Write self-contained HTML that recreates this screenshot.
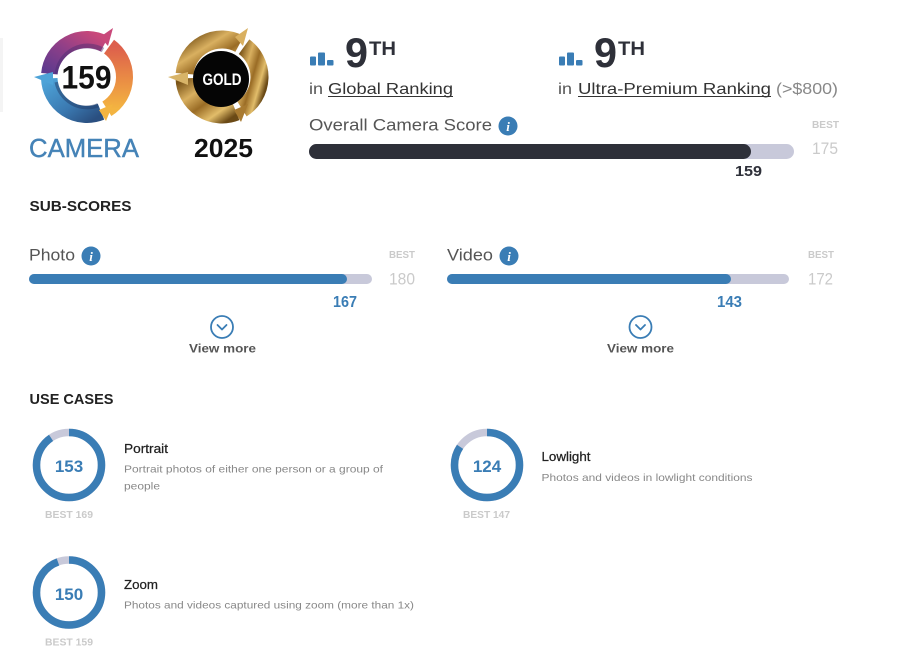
<!DOCTYPE html>
<html>
<head>
<meta charset="utf-8">
<style>
html,body{margin:0;padding:0;background:#fff;}
body{width:902px;height:668px;overflow:hidden;}
svg{display:block;}
svg text{font-family:"Liberation Sans",sans-serif;}
svg text.ic{font-family:"Liberation Serif",serif;}
</style>
</head>
<body>
<svg width="902" height="668" viewBox="0 0 902 668" xmlns="http://www.w3.org/2000/svg">
<defs>
  <linearGradient id="gPur" x1="0" y1="1" x2="1" y2="0">
    <stop offset="0" stop-color="#5e3a8e"/>
    <stop offset="0.5" stop-color="#8e3f88"/>
    <stop offset="1" stop-color="#c9487a"/>
  </linearGradient>
  <linearGradient id="gOra" x1="0" y1="0" x2="0" y2="1">
    <stop offset="0" stop-color="#dd5f4c"/>
    <stop offset="0.5" stop-color="#e98a45"/>
    <stop offset="1" stop-color="#f3b441"/>
  </linearGradient>
  <linearGradient id="gBlu" x1="0" y1="0" x2="1" y2="1">
    <stop offset="0" stop-color="#4ea3d8"/>
    <stop offset="0.6" stop-color="#3a78b0"/>
    <stop offset="1" stop-color="#2a4f80"/>
  </linearGradient>
  <linearGradient id="gGold" x1="0" y1="0" x2="1" y2="1">
    <stop offset="0" stop-color="#7a5418"/>
    <stop offset="0.3" stop-color="#d9b060"/>
    <stop offset="0.55" stop-color="#9a6c25"/>
    <stop offset="0.8" stop-color="#e2bd6a"/>
    <stop offset="1" stop-color="#6b4a16"/>
  </linearGradient>
</defs>

<!-- faint left edge -->
<rect x="0" y="38" width="3" height="74" fill="#f4f4f4"/>

<!-- CAMERA logo -->
<g>
  <path d="M49.64,73.73 A37.5,37.5 0 0 1 104.6,43.89" fill="none" stroke="url(#gPur)" stroke-width="17"/>
  <path d="M109.04,46.66 A37.5,37.5 0 0 1 106.87,108.8" fill="none" stroke="url(#gOra)" stroke-width="17"/>
  <path d="M101.05,111.77 A37.5,37.5 0 0 1 49.52,78.31" fill="none" stroke="url(#gBlu)" stroke-width="17"/>
  <polygon points="100,37 113,28 108,46" fill="#c9487a"/>
  <polygon points="99,110 106,121 113,104" fill="#f3b441"/>
  <polygon points="53,72 34,77 53,85" fill="#4ea3d8"/>
  <path d="M57,74 A31,31 0 0 1 103,50" fill="none" stroke="#4a2c72" stroke-width="5" opacity="0.45"/>
  <path d="M98,105 A31,31 0 0 1 57,82" fill="none" stroke="#1f3a66" stroke-width="5" opacity="0.5"/>
  <circle cx="86" cy="77" r="28.5" fill="#fff"/>
  <text x="61.5" y="88.5" font-size="32" font-weight="bold" fill="#111" textLength="50" lengthAdjust="spacingAndGlyphs">159</text>
</g>
<text x="29" y="157" font-size="26" fill="#4583b7" stroke="#4583b7" stroke-width="0.4" textLength="110" lengthAdjust="spacingAndGlyphs">CAMERA</text>

<!-- GOLD badge -->
<g>
  <path d="M184.64,73.73 A37.5,37.5 0 0 1 239.6,43.89" fill="none" stroke="url(#gGold)" stroke-width="18"/>
  <path d="M244.04,46.66 A37.5,37.5 0 0 1 241.87,108.8" fill="none" stroke="url(#gGold)" stroke-width="18"/>
  <path d="M236.05,111.77 A37.5,37.5 0 0 1 184.52,78.31" fill="none" stroke="url(#gGold)" stroke-width="18"/>
  <polygon points="235,37 248,28 243,46" fill="#d9b060"/>
  <polygon points="234,110 241,122 248,104" fill="#a87a30"/>
  <polygon points="188,72 168,77 188,85" fill="#d8b468"/>
  <circle cx="221" cy="79" r="28" fill="#050505"/>
  <text x="202.5" y="85" font-size="17" font-weight="bold" fill="#fff" textLength="39" lengthAdjust="spacingAndGlyphs">GOLD</text>
</g>
<text x="194" y="157" font-size="26" font-weight="bold" fill="#111" textLength="59" lengthAdjust="spacingAndGlyphs">2025</text>

<!-- Rankings -->
<g fill="#3a7db5">
  <rect x="310" y="56.5" width="6" height="9" rx="1"/>
  <rect x="318" y="52.5" width="7" height="13" rx="1"/>
  <rect x="327" y="60" width="6.5" height="5.5" rx="1"/>
  <rect x="559" y="56.5" width="6" height="9" rx="1"/>
  <rect x="567" y="52.5" width="7" height="13" rx="1"/>
  <rect x="576" y="60" width="6.5" height="5.5" rx="1"/>
</g>
<text x="345" y="67" font-size="42" font-weight="bold" fill="#2e3039" textLength="23" lengthAdjust="spacingAndGlyphs">9</text>
<text x="369" y="55" font-size="19" font-weight="bold" fill="#2e3039" textLength="27" lengthAdjust="spacingAndGlyphs">TH</text>
<text x="594" y="67" font-size="42" font-weight="bold" fill="#2e3039" textLength="23" lengthAdjust="spacingAndGlyphs">9</text>
<text x="618" y="55" font-size="19" font-weight="bold" fill="#2e3039" textLength="27" lengthAdjust="spacingAndGlyphs">TH</text>

<text x="309" y="94" font-size="16" fill="#555" textLength="14" lengthAdjust="spacingAndGlyphs">in</text>
<text x="328" y="94" font-size="16" fill="#333" textLength="125" lengthAdjust="spacingAndGlyphs">Global Ranking</text>
<line x1="328" y1="96.5" x2="453" y2="96.5" stroke="#333" stroke-width="1"/>

<text x="558" y="94" font-size="16" fill="#555" textLength="14" lengthAdjust="spacingAndGlyphs">in</text>
<text x="578" y="94" font-size="16" fill="#333" textLength="193" lengthAdjust="spacingAndGlyphs">Ultra-Premium Ranking</text>
<line x1="578" y1="96.5" x2="771" y2="96.5" stroke="#333" stroke-width="1"/>
<text x="776" y="94" font-size="16" fill="#888" textLength="62" lengthAdjust="spacingAndGlyphs">(&gt;$800)</text>

<!-- Overall score -->
<text x="309" y="130.5" font-size="17" fill="#555" textLength="183" lengthAdjust="spacingAndGlyphs">Overall Camera Score</text>
<circle cx="508" cy="126" r="9.5" fill="#3a7db5"/>
<text class="ic" x="508" y="131" font-size="13" font-weight="bold" font-style="italic" fill="#fff" text-anchor="middle">i</text>
<text x="812" y="128" font-size="10" font-weight="bold" fill="#cacaca" textLength="27" lengthAdjust="spacingAndGlyphs">BEST</text>
<text x="812" y="154" font-size="17" fill="#cacaca" textLength="26" lengthAdjust="spacingAndGlyphs">175</text>
<rect x="309" y="144" width="485" height="15" rx="7.5" fill="#c8c9da"/>
<rect x="309" y="144" width="442" height="15" rx="7.5" fill="#2e3039"/>
<text x="735" y="176" font-size="15" font-weight="bold" fill="#2e3039" textLength="27" lengthAdjust="spacingAndGlyphs">159</text>

<!-- SUB-SCORES -->
<text x="29.5" y="211" font-size="15" font-weight="bold" fill="#222" textLength="102" lengthAdjust="spacingAndGlyphs">SUB-SCORES</text>

<!-- Photo -->
<text x="29" y="260.5" font-size="17" fill="#555" textLength="46" lengthAdjust="spacingAndGlyphs">Photo</text>
<circle cx="91" cy="256" r="9.5" fill="#3a7db5"/>
<text class="ic" x="91" y="261" font-size="13" font-weight="bold" font-style="italic" fill="#fff" text-anchor="middle">i</text>
<text x="389" y="258" font-size="10" font-weight="bold" fill="#cacaca" textLength="26" lengthAdjust="spacingAndGlyphs">BEST</text>
<text x="389" y="284.5" font-size="17" fill="#cacaca" textLength="26" lengthAdjust="spacingAndGlyphs">180</text>
<rect x="29" y="274" width="343" height="10" rx="5" fill="#c8c9da"/>
<rect x="29" y="274" width="318" height="10" rx="5" fill="#3a7db5"/>
<text x="333" y="307" font-size="16" font-weight="bold" fill="#3a7db5" textLength="24" lengthAdjust="spacingAndGlyphs">167</text>
<circle cx="222" cy="327" r="11" fill="none" stroke="#3a7db5" stroke-width="1.8"/>
<path d="M217.5,325 L222,329.5 L226.5,325" fill="none" stroke="#3a7db5" stroke-width="1.8" stroke-linecap="round" stroke-linejoin="round"/>
<text x="189" y="352.5" font-size="12" font-weight="bold" fill="#555" textLength="67" lengthAdjust="spacingAndGlyphs">View more</text>

<!-- Video -->
<text x="447" y="260.5" font-size="17" fill="#555" textLength="46" lengthAdjust="spacingAndGlyphs">Video</text>
<circle cx="509" cy="256" r="9.5" fill="#3a7db5"/>
<text class="ic" x="509" y="261" font-size="13" font-weight="bold" font-style="italic" fill="#fff" text-anchor="middle">i</text>
<text x="808" y="258" font-size="10" font-weight="bold" fill="#cacaca" textLength="26" lengthAdjust="spacingAndGlyphs">BEST</text>
<text x="808" y="284.5" font-size="17" fill="#cacaca" textLength="25" lengthAdjust="spacingAndGlyphs">172</text>
<rect x="447" y="274" width="342" height="10" rx="5" fill="#c8c9da"/>
<rect x="447" y="274" width="284" height="10" rx="5" fill="#3a7db5"/>
<text x="717" y="307" font-size="16" font-weight="bold" fill="#3a7db5" textLength="25" lengthAdjust="spacingAndGlyphs">143</text>
<circle cx="640.5" cy="327" r="11" fill="none" stroke="#3a7db5" stroke-width="1.8"/>
<path d="M636,325 L640.5,329.5 L645,325" fill="none" stroke="#3a7db5" stroke-width="1.8" stroke-linecap="round" stroke-linejoin="round"/>
<text x="607" y="352.5" font-size="12" font-weight="bold" fill="#555" textLength="67" lengthAdjust="spacingAndGlyphs">View more</text>

<!-- USE CASES -->
<text x="29.5" y="404" font-size="15" font-weight="bold" fill="#222" textLength="84" lengthAdjust="spacingAndGlyphs">USE CASES</text>

<!-- Portrait -->
<circle cx="69" cy="465" r="32.5" fill="none" stroke="#c8c9da" stroke-width="7.5"/>
<circle cx="69" cy="465" r="32.5" fill="none" stroke="#3a7db5" stroke-width="7.5" stroke-dasharray="184.9 300" transform="rotate(-90 69 465)"/>
<text x="69" y="472" font-size="17" font-weight="bold" fill="#3a7db5" text-anchor="middle">153</text>
<text x="45" y="518" font-size="10" font-weight="bold" fill="#cacaca" textLength="48" lengthAdjust="spacingAndGlyphs">BEST 169</text>
<text x="124" y="453" font-size="13" fill="#222" stroke="#222" stroke-width="0.25" textLength="44" lengthAdjust="spacingAndGlyphs">Portrait</text>
<text x="124" y="472.5" font-size="10.5" fill="#888" textLength="259" lengthAdjust="spacingAndGlyphs">Portrait photos of either one person or a group of</text>
<text x="124" y="489.5" font-size="10.5" fill="#888" textLength="36" lengthAdjust="spacingAndGlyphs">people</text>

<!-- Lowlight -->
<circle cx="487" cy="465" r="32.5" fill="none" stroke="#c8c9da" stroke-width="7.5"/>
<circle cx="487" cy="465" r="32.5" fill="none" stroke="#3a7db5" stroke-width="7.5" stroke-dasharray="172.2 300" transform="rotate(-90 487 465)"/>
<text x="487" y="472" font-size="17" font-weight="bold" fill="#3a7db5" text-anchor="middle">124</text>
<text x="463" y="518" font-size="10" font-weight="bold" fill="#cacaca" textLength="47" lengthAdjust="spacingAndGlyphs">BEST 147</text>
<text x="541.5" y="461" font-size="13" fill="#222" stroke="#222" stroke-width="0.25" textLength="49" lengthAdjust="spacingAndGlyphs">Lowlight</text>
<text x="541.5" y="481" font-size="10.5" fill="#888" textLength="211" lengthAdjust="spacingAndGlyphs">Photos and videos in lowlight conditions</text>

<!-- Zoom -->
<circle cx="69" cy="592.5" r="32.5" fill="none" stroke="#c8c9da" stroke-width="7.5"/>
<circle cx="69" cy="592.5" r="32.5" fill="none" stroke="#3a7db5" stroke-width="7.5" stroke-dasharray="192.6 300" transform="rotate(-90 69 592.5)"/>
<text x="69" y="600" font-size="17" font-weight="bold" fill="#3a7db5" text-anchor="middle">150</text>
<text x="45" y="645.5" font-size="10" font-weight="bold" fill="#cacaca" textLength="48" lengthAdjust="spacingAndGlyphs">BEST 159</text>
<text x="124" y="589" font-size="13" fill="#222" stroke="#222" stroke-width="0.25" textLength="34" lengthAdjust="spacingAndGlyphs">Zoom</text>
<text x="124" y="608.5" font-size="10.5" fill="#888" textLength="290" lengthAdjust="spacingAndGlyphs">Photos and videos captured using zoom (more than 1x)</text>
</svg>
</body>
</html>
